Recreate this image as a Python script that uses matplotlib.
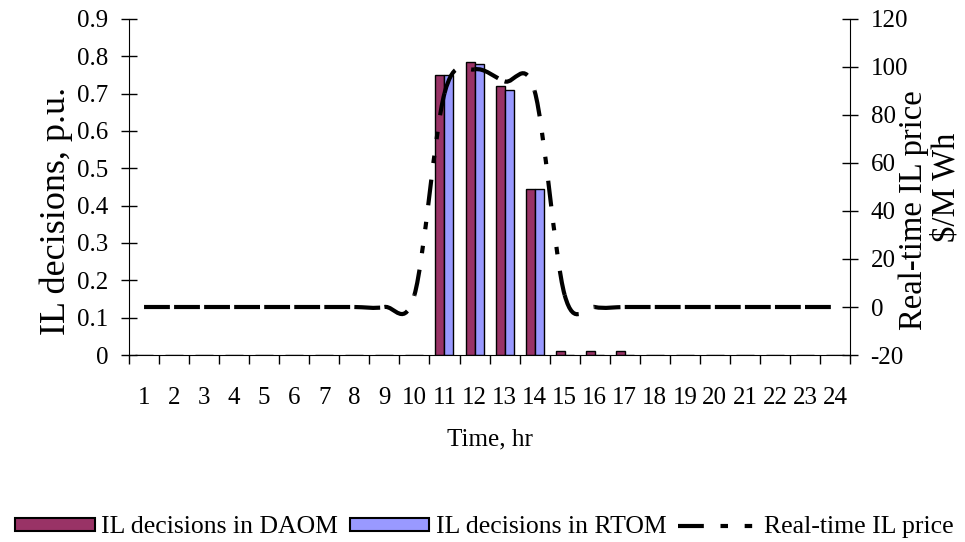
import numpy as np
import matplotlib.pyplot as plt
from matplotlib.path import Path
from matplotlib.patches import PathPatch, Patch
from matplotlib.lines import Line2D

plt.rcParams['font.family'] = ['Liberation Serif', 'DejaVu Serif']
plt.rcParams['axes.unicode_minus'] = False

# hourly data
hours = np.arange(1, 25)
hour_labels = [str(h) for h in hours]
il_daom = [0] * 10 + [0.75, 0.785, 0.72, 0.445, 0.01, 0.01, 0.01] + [0] * 7
il_rtom = [0] * 10 + [0.75, 0.78, 0.71, 0.445, 0, 0, 0] + [0] * 7
rt_price = [0] * 9 + [5, 89, 99, 94, 90, 5] + [0] * 9

c_daom = '#993366'
c_rtom = '#9999FF'
price_dash = (0, (6.2, 4, 1.8, 4, 1.8, 4))


def smooth_pieces(x, y):
    """Bezier pieces through the points (Catmull-Rom style tangents)."""
    pts = np.column_stack([x, y]).astype(float)
    padded = np.vstack([pts[0], pts, pts[-1]])
    pieces = []
    for i in range(len(pts) - 1):
        p0, p1, p2, p3 = padded[i:i + 4]
        c1 = p1 + (p2 - p0) / 6.0
        c2 = p2 - (p3 - p1) / 6.0
        pieces.append(Path([p1, c1, c2, p2],
                           [Path.MOVETO, Path.CURVE4, Path.CURVE4, Path.CURVE4]))
    return pieces


fig = plt.figure(figsize=(9.65, 5.42), dpi=100)
ax = fig.add_axes([0.1337, 0.345, 0.7472, 0.62])
ax2 = ax.twinx()

ax.bar(hours - 0.15, il_daom, width=0.3, color=c_daom, edgecolor='black', lw=1.0, zorder=2)
ax.bar(hours + 0.15, il_rtom, width=0.3, color=c_rtom, edgecolor='black', lw=1.0, zorder=2)

# every hourly piece gets its own dash pattern start
for piece in smooth_pieces(hours, rt_price):
    ax2.add_patch(PathPatch(piece, fill=False, edgecolor='black', lw=3,
                            linestyle=price_dash, capstyle='butt', zorder=3))

ax.set_xlim(0.5, 24.5)
ax.set_ylim(0, 0.9)
ax.set_yticks(np.arange(0, 0.91, 0.1))
ax.set_yticklabels(['%g' % round(v, 1) for v in np.arange(0, 0.91, 0.1)])
ax2.set_ylim(-20, 120)
ax2.set_yticks(np.arange(-20, 121, 20))

ax.set_xticks(np.arange(0.5, 25, 1))
ax.set_xticklabels([])
ax.set_xticks(hours, minor=True)
ax.set_xticklabels(hour_labels, minor=True)
ax.tick_params(axis='x', which='major', direction='out', length=6.5, width=1)
ax.tick_params(axis='x', which='minor', length=0, pad=23, labelsize=18)
ax.tick_params(axis='y', direction='inout', length=11.5, width=1, labelsize=18, pad=9)
ax2.tick_params(axis='y', direction='inout', length=11.5, width=1, labelsize=18, pad=9)

for s in ['top', 'right']:
    ax.spines[s].set_visible(False)
for s in ['top', 'left', 'bottom']:
    ax2.spines[s].set_visible(False)

ax.set_xlabel('Time, hr', fontsize=18, labelpad=14)
ax.set_ylabel('IL decisions, p.u.', fontsize=26, ha='center', va='center')
ax.yaxis.set_label_coords(-0.101, 0.43)
ax2.text(1.089, 0.43, 'Real-time IL price', transform=ax2.transAxes, rotation=90,
         ha='center', va='center', fontsize=23.5)
ax2.text(1.133, 0.5, '$/M Wh', transform=ax2.transAxes, rotation=90,
         ha='center', va='center', fontsize=23.5)

handles = [Patch(facecolor=c_daom, edgecolor='black', lw=1.5),
           Patch(facecolor=c_rtom, edgecolor='black', lw=1.5),
           Line2D([], [], color='black', lw=3, linestyle=price_dash, dash_capstyle='butt')]
fig.legend(handles, ['IL decisions in DAOM', 'IL decisions in RTOM', 'Real-time IL price'],
           loc='center', bbox_to_anchor=(0.502, 0.027), ncol=3, frameon=False,
           fontsize=18.5, handlelength=3.1, handleheight=0.4, handletextpad=0.25,
           columnspacing=0.45, borderpad=0.1)

fig.savefig('out.png', dpi=100)
